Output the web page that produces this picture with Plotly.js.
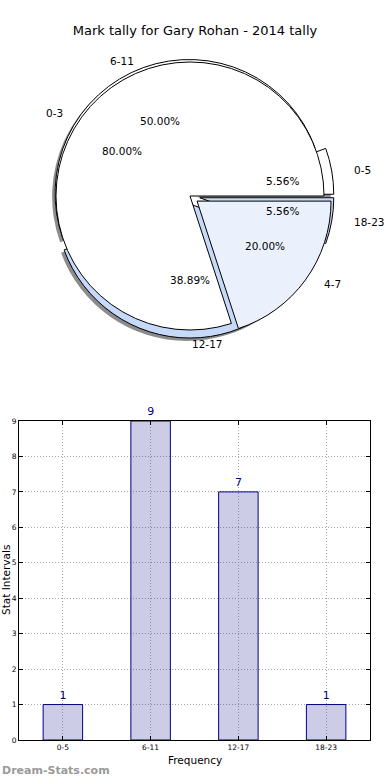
<!DOCTYPE html>
<html><head><meta charset="utf-8">
<script src="https://cdn.plot.ly/plotly-3.0.1.min.js"></script>
<style>html,body{margin:0;padding:0;background:#fff}#chart{width:390px;height:780px}</style>
</head><body><div id="chart"></div>
<script>
// ---- data ----
const chartTitle = 'Mark tally for Gary Rohan - 2014 tally';
const innerLabels = ['0-3', '4-7'];
const innerValues = [80, 20];
const innerPull = [0, 0.065];
const innerColors = ['#ffffff', '#ebf1fc'];
const outerLabels = ['0-5', '6-11', '12-17', '18-23'];
const outerValues = [1, 9, 7, 1];
const outerPull = [0.074, 0.02, 0.06, 0.074];
const outerColors = ['#ffffff', '#ffffff', '#c6d9f8', '#c6d9f8'];
const barCategories = ['0-5', '6-11', '12-17', '18-23'];
const barValues = [1, 9, 7, 1];
const xTitle = 'Frequency';
const yTitle = 'Stat Intervals';
const watermark = 'Dream-Stats.com';

// ---- geometry ----
const W = 390, H = 780;
const pieCx = 190, pieCy = 196, pieR = 134;
const ux = 140, uy = 128; // label placement units (px per radius)
const FONT = 'DejaVu Sans';

function pieDomain(pulls, dx, dy) {
  const h = pieR * (1 + Math.max.apply(null, pulls));
  return {
    x: [(pieCx + dx - h) / W, (pieCx + dx + h) / W],
    y: [1 - (pieCy + dy + h) / H, 1 - (pieCy + dy - h) / H]
  };
}
// first slice starts at 3 o'clock and slices run counterclockwise (as in the reference)
function startRotation(values) {
  const total = values.reduce((a, b) => a + b, 0);
  let r = 90 - 360 * values[0] / total;
  while (r > 180) r -= 360;
  while (r < -180) r += 360;
  return r;
}

const basePie = {
  type: 'pie', sort: false, direction: 'counterclockwise',
  textinfo: 'none', hoverinfo: 'none', showlegend: false
};

const traces = [
  Object.assign({}, basePie, {
    labels: outerLabels, values: outerValues, pull: outerPull, rotation: startRotation(outerValues),
    marker: { colors: outerValues.map(() => 'rgba(0,0,0,0.45)'), line: { width: 0 } },
    domain: pieDomain(outerPull, -3, 3)
  }),
  Object.assign({}, basePie, {
    labels: outerLabels, values: outerValues, pull: outerPull, rotation: startRotation(outerValues),
    marker: { colors: outerColors, line: { color: '#000', width: 1 } },
    domain: pieDomain(outerPull, 0, 0)
  }),
  Object.assign({}, basePie, {
    labels: innerLabels, values: innerValues, pull: innerPull, rotation: startRotation(innerValues),
    marker: { colors: innerColors, line: { color: '#000', width: 1 } },
    domain: pieDomain(innerPull, 0, 0)
  }),
  {
    type: 'bar', x: barCategories, y: barValues, width: 0.45,
    marker: { color: 'rgba(0,0,128,0.2)', line: { color: '#000080', width: 1 } },
    text: barValues.map(String), textposition: 'outside', cliponaxis: false,
    textfont: { family: FONT, size: 11, color: '#000080' },
    hoverinfo: 'none', showlegend: false, xaxis: 'x', yaxis: 'y'
  },
  { type: 'scatter', x: [], y: [], xaxis: 'x2', yaxis: 'y2', hoverinfo: 'skip', showlegend: false }
];

// ---- pie labels (from data, through hidden axis x2/y2) ----
const annotations = [];
function addPieLabels(labels, values, pulls) {
  const total = values.reduce((a, b) => a + b, 0);
  let cum = 0;
  values.forEach((v, i) => {
    const frac = v / total;
    const th = 2 * Math.PI * (cum + frac / 2);
    cum += frac;
    const c = Math.cos(th), s = Math.sin(th);
    const p = pulls[i];
    annotations.push({
      xref: 'x2', yref: 'y2', x: (p + 0.6) * c, y: (p + 0.6) * s,
      text: (frac * 100).toFixed(2) + '%', showarrow: false,
      xanchor: 'center', yanchor: 'middle',
      font: { family: FONT, size: 10.5, color: '#000' }
    });
    annotations.push({
      xref: 'x2', yref: 'y2', x: (p + 1.1) * c, y: (p + 1.1) * s,
      text: labels[i], showarrow: false,
      xanchor: c > -1e-9 ? 'left' : 'right', yanchor: 'middle',
      font: { family: FONT, size: 10.5, color: '#000' }
    });
  });
}
addPieLabels(outerLabels, outerValues, outerPull);
addPieLabels(innerLabels, innerValues, innerPull);

annotations.push({
  xref: 'paper', yref: 'paper', x: 6 / W, y: 1 - 580 / H,
  text: yTitle, textangle: -90, showarrow: false,
  xanchor: 'center', yanchor: 'middle',
  font: { family: FONT, size: 10.5, color: '#000' }
});
annotations.push({
  xref: 'paper', yref: 'paper', x: (19 + 370) / 2 / W, y: 1 - 760 / H,
  text: xTitle, showarrow: false, xanchor: 'center', yanchor: 'middle',
  font: { family: FONT, size: 10.5, color: '#000' }
});
annotations.push({
  xref: 'paper', yref: 'paper', x: 0, y: 1 - 770 / H,
  text: watermark, showarrow: false, xanchor: 'left', yanchor: 'middle',
  font: { family: FONT, size: 11, color: '#9a9a9a', weight: 'bold' }
});

const axisCommon = {
  showline: true, linecolor: '#000', linewidth: 1, mirror: 'ticks',
  ticks: 'inside', ticklen: 4, tickcolor: '#000', tickwidth: 1,
  showgrid: true, gridcolor: '#a8a8a8', gridwidth: 1, griddash: '1px,2px',
  zeroline: false, tickfont: { family: FONT, size: 7.5, color: '#000' },
  fixedrange: true
};

const layout = {
  width: W, height: H,
  margin: { l: 0, r: 0, t: 0, b: 0, pad: 0 },
  paper_bgcolor: '#fff', plot_bgcolor: 'rgba(0,0,0,0)',
  showlegend: false,
  font: { family: FONT, color: '#000' },
  title: {
    text: chartTitle, x: 0.5, xanchor: 'center', y: 1 - 30 / H, yanchor: 'middle',
    font: { family: FONT, size: 13, color: '#000' }
  },
  xaxis: Object.assign({}, axisCommon, {
    domain: [19 / W, 370 / W], type: 'category', range: [-0.5, 3.5], anchor: 'y'
  }),
  yaxis: Object.assign({}, axisCommon, {
    domain: [1 - 740 / H, 1 - 421 / H], range: [0, 9], dtick: 1, anchor: 'x'
  }),
  xaxis2: {
    domain: [0, 1], range: [(0 - pieCx) / ux, (W - pieCx) / ux], anchor: 'y2',
    visible: false, showgrid: false, zeroline: false, fixedrange: true
  },
  yaxis2: {
    domain: [0.5, 1], range: [(pieCy - H / 2) / uy, pieCy / uy], anchor: 'x2',
    visible: false, showgrid: false, zeroline: false, fixedrange: true
  },
  annotations: annotations
};

Plotly.newPlot('chart', traces, layout, { displayModeBar: false, staticPlot: true });
</script>
</body></html>
